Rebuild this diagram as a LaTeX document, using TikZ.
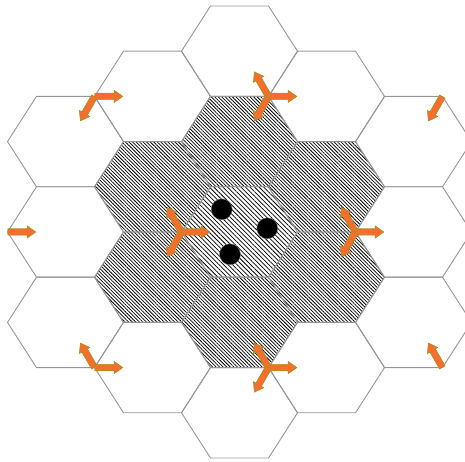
\documentclass[tikz,border=0pt]{standalone}
\usepackage{xcolor}
\usepackage{tikz}
\usetikzlibrary{shapes.arrows, patterns.meta, calc}
\definecolor{cellgray}{RGB}{150, 150, 150}
\definecolor{moveorange}{RGB}{245, 110, 45}
\definecolor{moveedge}{RGB}{160, 150, 30}

\tikzset{
    celledge/.style={draw=cellgray, line width=0.9pt},
    ringcell/.style={pattern={Lines[angle=-45, distance=2.5pt, line width=0.75pt]}},
    homecell/.style={pattern={Lines[angle=-45, distance=3.2pt, line width=0.75pt]}},
    userdot/.style={circle, fill=black, draw=gray, line width=0.4pt, minimum size=21pt, inner sep=0pt},
    movearrow/.style={single arrow, fill=moveorange, draw=moveedge, line width=0.6pt,
        inner sep=2.9pt, minimum height=28pt, single arrow head extend=2.8pt,
        single arrow tip angle=70, anchor=tail}
}

\begin{document}
\begin{tikzpicture}[x=1pt, y=1pt]
    \useasboundingbox (0,0) rectangle (465,462);
    \clip (0,0) rectangle (465,462);

    % first ring
    \foreach \cx/\cy in {239.5/320.4, 239.5/139.6, 152.5/275.2, 152.5/184.8, 326.5/275.2, 326.5/184.8}
        \fill[ringcell] (\cx,\cy) ++(58,0) -- ++(-29,45.2) -- ++(-58,0) -- ++(-29,-45.2)
            -- ++(29,-45.2) -- ++(58,0) -- cycle;

    % home cell
    \fill[homecell] (239.5,230) ++(58,0) -- ++(-29,45.2) -- ++(-58,0) -- ++(-29,-45.2)
        -- ++(29,-45.2) -- ++(58,0) -- cycle;

    % all cell borders
    \foreach \cx/\cy in {239.5/410.8, 239.5/49.2, 152.5/365.6, 326.5/365.6, 152.5/94.4, 326.5/94.4,
                         65.5/320.4, 65.5/230, 65.5/139.6, 413.5/320.4, 413.5/230, 413.5/139.6,
                         239.5/320.4, 239.5/139.6, 152.5/275.2, 152.5/184.8, 326.5/275.2, 326.5/184.8,
                         239.5/230}
        \draw[celledge] (\cx,\cy) ++(58,0) -- ++(-29,45.2) -- ++(-58,0) -- ++(-29,-45.2)
            -- ++(29,-45.2) -- ++(58,0) -- cycle;

    \node[userdot] (user1) at (221.7,252.7) {};
    \node[userdot] (user2) at (267.3,233.7) {};
    \node[userdot] (user3) at (230,207.7) {};

    % cell corners
    \coordinate (vA) at (94.5,365.6);
    \coordinate (vB) at (268.5,365.6);
    \coordinate (vC) at (442.5,365.6);
    \coordinate (vD) at (7.5,230);
    \coordinate (vE) at (181.5,230);
    \coordinate (vF) at (355.5,230);
    \coordinate (vG) at (94.5,94.4);
    \coordinate (vH) at (268.5,94.4);
    \coordinate (vI) at (442.5,94.4);

    \node[movearrow, rotate=0] (mA1) at (vA) {};
    \node[movearrow, rotate=240] (mA2) at (vA) {};
    \node[movearrow, rotate=120] (mB1) at (vB) {};
    \node[movearrow, rotate=0] (mB2) at (vB) {};
    \node[movearrow, rotate=240] (mB3) at (vB) {};
    \node[movearrow, rotate=240] (mC1) at (vC) {};
    \node[movearrow, rotate=0] (mD1) at (vD) {};
    \node[movearrow, rotate=120] (mE1) at (vE) {};
    \node[movearrow, rotate=0] (mE2) at (vE) {};
    \node[movearrow, rotate=240] (mE3) at (vE) {};
    \node[movearrow, rotate=120] (mF1) at (vF) {};
    \node[movearrow, rotate=0] (mF2) at (vF) {};
    \node[movearrow, rotate=240] (mF3) at (vF) {};
    \node[movearrow, rotate=120] (mG1) at (vG) {};
    \node[movearrow, rotate=0] (mG2) at (vG) {};
    \node[movearrow, rotate=120] (mH1) at (vH) {};
    \node[movearrow, rotate=0] (mH2) at (vH) {};
    \node[movearrow, rotate=240] (mH3) at (vH) {};
    \node[movearrow, rotate=120] (mI1) at (vI) {};
\end{tikzpicture}
\end{document}
